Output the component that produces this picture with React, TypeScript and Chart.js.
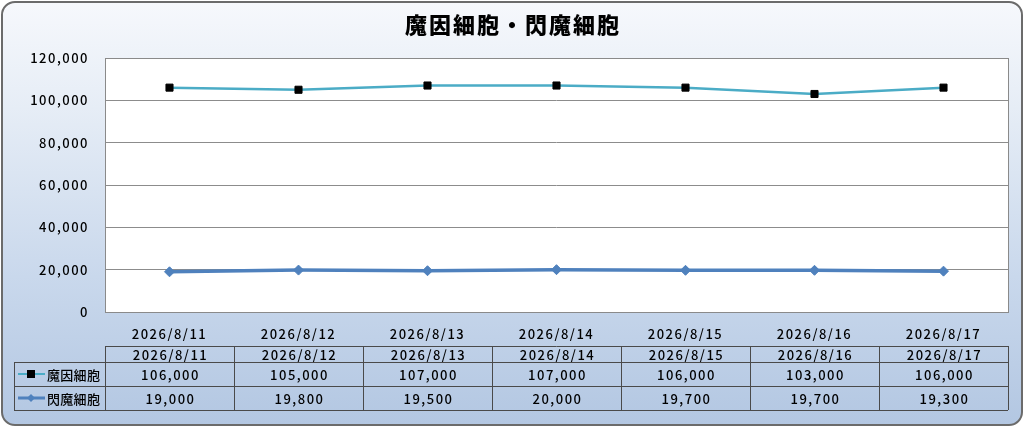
import React, { MutableRefObject, useEffect, useRef } from 'react';
import { Chart, registerables } from 'chart.js';

Chart.register(...registerables);

const titleText = '魔因細胞・閃魔細胞';
const dates = ['2026/8/11', '2026/8/12', '2026/8/13', '2026/8/14', '2026/8/15', '2026/8/16', '2026/8/17'];
const mainNames = ['魔因細胞', '閃魔細胞'];
const maInValues = [106000, 105000, 107000, 107000, 106000, 103000, 106000];
const senMaValues = [19000, 19800, 19500, 20000, 19700, 19700, 19300];

const FONT = '"Noto Sans CJK JP", "Noto Sans", sans-serif';
const fmt = (v: number) => v.toLocaleString('en-US');

const tablePlugin = {
  id: 'tablePlugin',
  beforeDraw(chart: any) {
    const { ctx, chartArea } = chart;
    // wide spacing for all text, like the original
    ctx.letterSpacing = '1.5px';
    ctx.save();
    ctx.fillStyle = '#ffffff';
    ctx.fillRect(chartArea.left, chartArea.top, chartArea.right - chartArea.left, chartArea.bottom - chartArea.top);
    ctx.restore();
  },
  afterDraw(chart: any) {
    const { ctx, chartArea } = chart;
    const x = chart.scales.x;
    const colW = (chartArea.right - chartArea.left) / dates.length;
    ctx.save();

    // title
    ctx.fillStyle = '#000';
    ctx.font = `900 22px ${FONT}`;
    ctx.letterSpacing = '2px';
    ctx.textAlign = 'center';
    ctx.textBaseline = 'middle';
    ctx.fillText(titleText, 513, 25);
    ctx.letterSpacing = '1.5px';

    // plot border
    ctx.strokeStyle = '#8a8a8a';
    ctx.lineWidth = 1;
    ctx.strokeRect(chartArea.left + 0.5, chartArea.top + 0.5, chartArea.right - chartArea.left, chartArea.bottom - chartArea.top);

    const hTop = 346, r1 = 362, r2 = 386, r3 = 410, legL = 14;
    ctx.strokeStyle = '#4a4a4a';
    ctx.beginPath();
    ctx.moveTo(chartArea.left, hTop + 0.5); ctx.lineTo(chartArea.right, hTop + 0.5);
    ctx.moveTo(legL, r1 + 0.5); ctx.lineTo(chartArea.right, r1 + 0.5);
    ctx.moveTo(legL, r2 + 0.5); ctx.lineTo(chartArea.right, r2 + 0.5);
    ctx.moveTo(legL, r3 + 0.5); ctx.lineTo(chartArea.right, r3 + 0.5);
    ctx.moveTo(legL + 0.5, r1); ctx.lineTo(legL + 0.5, r3);
    for (let i = 0; i <= dates.length; i++) {
      const px = Math.round(chartArea.left + i * colW) + 0.5;
      ctx.moveTo(px, hTop); ctx.lineTo(px, r3);
    }
    ctx.stroke();

    ctx.fillStyle = '#000';
    ctx.font = `500 13px ${FONT}`;
    ctx.textAlign = 'center';
    dates.forEach((d, i) => {
      const cx = x.getPixelForValue(i) + 1;
      ctx.fillText(d, cx, (hTop + r1) / 2 + 1);
      ctx.fillText(fmt(maInValues[i]), cx, (r1 + r2) / 2 + 1);
      ctx.fillText(fmt(senMaValues[i]), cx, (r2 + r3) / 2 + 1);
    });

    // legend keys
    const rows = [
      { y: (r1 + r2) / 2, color: '#4bacc6', w: 2, marker: 'square' },
      { y: (r2 + r3) / 2, color: '#4f81bd', w: 3, marker: 'diamond' },
    ];
    rows.forEach((row, k) => {
      ctx.strokeStyle = row.color;
      ctx.lineWidth = row.w;
      ctx.beginPath();
      ctx.moveTo(18, row.y); ctx.lineTo(45, row.y);
      ctx.stroke();
      if (row.marker === 'square') {
        ctx.fillStyle = '#000';
        ctx.fillRect(27, row.y - 4, 8, 8);
      } else {
        ctx.fillStyle = row.color;
        ctx.beginPath();
        ctx.moveTo(31, row.y - 4); ctx.lineTo(35, row.y); ctx.lineTo(31, row.y + 4); ctx.lineTo(27, row.y);
        ctx.closePath();
        ctx.fill();
      }
      ctx.fillStyle = '#000';
      ctx.font = `500 13px ${FONT}`;
      ctx.letterSpacing = '0.3px';
      ctx.textAlign = 'left';
      ctx.fillText(mainNames[k], 47, row.y + 1);
    });
    ctx.restore();
  },
};

const App: React.FC = () => {
  const canvasRef = useRef() as MutableRefObject<HTMLCanvasElement | null>;

  useEffect(() => {
    let chart: any = null;
    if (canvasRef.current) {
      chart = new Chart(canvasRef.current, {
        type: 'line',
        data: {
          labels: dates,
          datasets: [
            {
              label: mainNames[0],
              data: maInValues,
              borderColor: '#4bacc6',
              borderWidth: 2.5,
              pointStyle: 'rect',
              pointRadius: 5,
              pointBackgroundColor: '#000',
              pointBorderColor: '#000',
              pointBorderWidth: 1,
            },
            {
              label: mainNames[1],
              data: senMaValues,
              borderColor: '#4f81bd',
              borderWidth: 3.5,
              pointStyle: 'rectRot',
              pointRadius: 5,
              pointBackgroundColor: '#4f81bd',
              pointBorderColor: '#4f81bd',
              pointBorderWidth: 1,
            },
          ],
        },
        options: {
          animation: false,
          responsive: false,
          maintainAspectRatio: false,
          layout: { padding: { top: 58, left: 0, right: 16, bottom: 81 } },
          plugins: {
            legend: { display: false },
            title: { display: false },
            tooltip: { enabled: false },
          },
          scales: {
            x: {
              offset: true,
              grid: { display: false },
              border: { display: false },
              ticks: { color: '#000', font: { family: FONT, size: 13, weight: '500' }, maxRotation: 0, autoSkip: false, padding: 6 },
              afterFit: (s: any) => { s.height = 34; },
            },
            y: {
              min: 0,
              max: 120000,
              grid: { color: '#8c8c8c', drawTicks: false },
              border: { display: false },
              ticks: {
                stepSize: 20000,
                color: '#000',
                padding: 16,
                font: { family: FONT, size: 13, weight: '500' },
                callback: (v: any) => fmt(Number(v)),
              },
              afterFit: (s: any) => { s.width = 105; },
            },
          },
          elements: {
            line: { tension: 0, fill: false },
          },
        },
        plugins: [tablePlugin],
      } as any);
    }
    return () => {
      if (chart) chart.destroy();
    };
  }, []);

  return (
    <div style={{ position: 'absolute', left: 0, top: 0, width: 1024, height: 427 }}>
      <div
        style={{
          position: 'absolute',
          left: 1,
          top: 1,
          width: 1018,
          height: 421,
          border: '2px solid #6b6b6b',
          borderRadius: 14,
          background: 'linear-gradient(to bottom, #f6f8fc 0%, #e6edf6 25%, #c9d8ec 65%, #b3c7e2 100%)',
        }}
      />
      <canvas
        ref={canvasRef}
        width={1024}
        height={427}
        style={{ position: 'absolute', left: 0, top: 0, width: 1024, height: 427 }}
      />
    </div>
  );
};

export default App;
